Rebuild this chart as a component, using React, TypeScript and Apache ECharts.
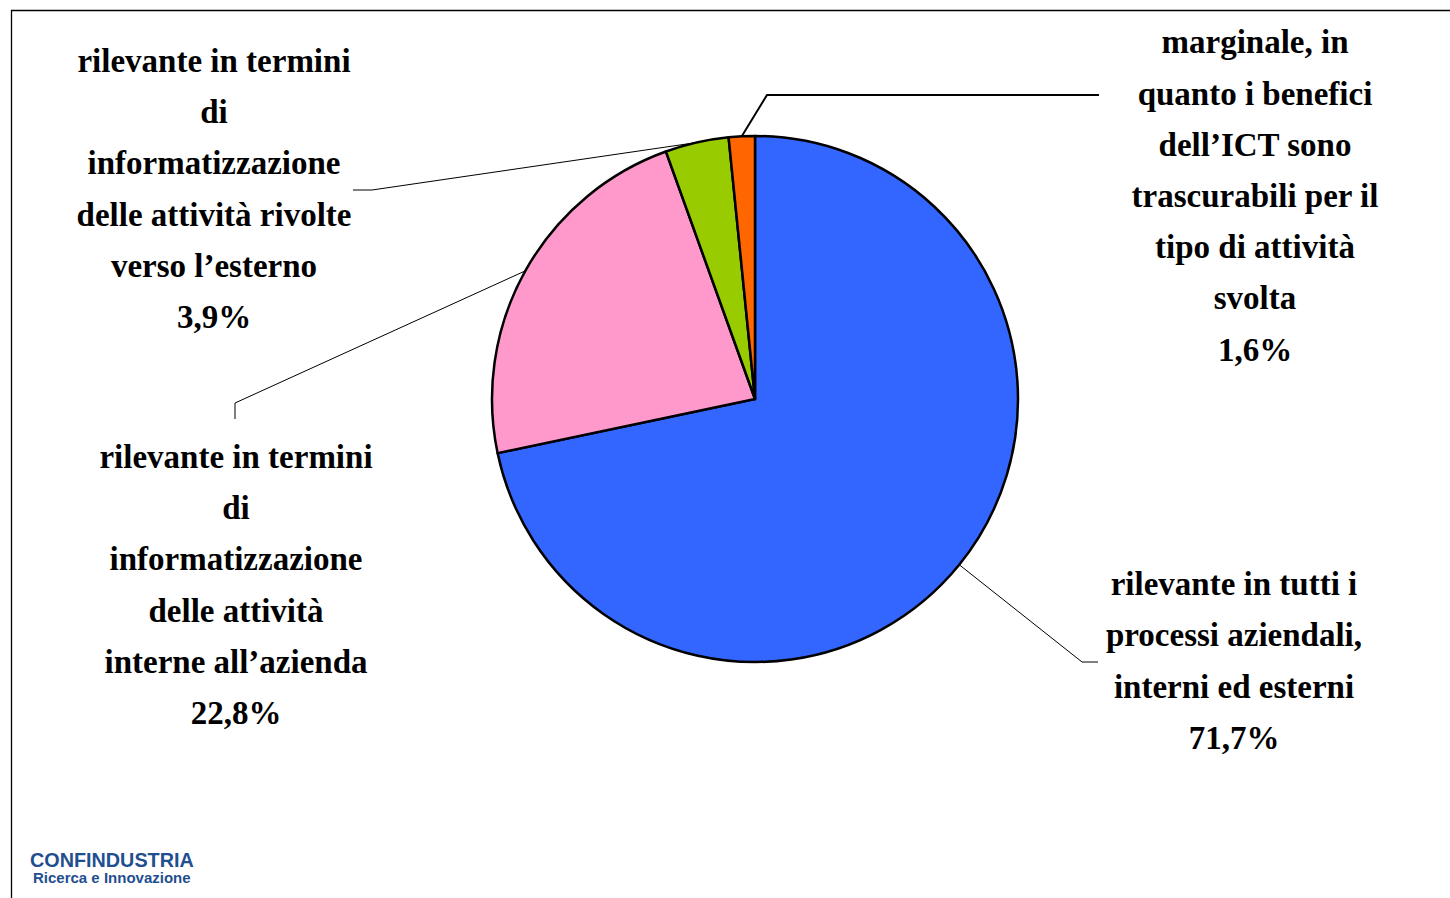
import React, { useEffect, useRef } from "react";
import * as echarts from "echarts";

const categories = [
  "rilevante in tutti i\nprocessi aziendali,\ninterni ed esterni",
  "rilevante in termini\ndi\ninformatizzazione\ndelle attività\ninterne all’azienda",
  "rilevante in termini\ndi\ninformatizzazione\ndelle attività rivolte\nverso l’esterno",
  "marginale, in\nquanto i benefici\ndell’ICT sono\ntrascurabili per il\ntipo di attività\nsvolta",
];
const values = [71.7, 22.8, 3.9, 1.6];
const colors = ["#3366FF", "#FF99CC", "#99CC00", "#FF6600"];

// layout only: label centres and leader-line bends
const labelCenters = [
  [1234, 661],
  [236, 585],
  [214, 189],
  [1255, 196],
];
const lineBends = [
  [[1082, 662], [1098, 662]],
  [[235, 403], [235, 419]],
  [[372, 190], [353, 190]],
  [[767, 95], [1099, 95]],
];
const lineWidths = [1, 1, 1, 2];

export default function App() {
  const ref = useRef<HTMLDivElement>(null);
  useEffect(() => {
    if (!ref.current) return;
    const chart = echarts.init(ref.current, null, { renderer: "svg" });
    const data = values.map((v, i) => ({
      value: v,
      name: categories[i],
      itemStyle: { color: colors[i] },
      labelLine: { lineStyle: { width: lineWidths[i], color: "#000" } },
    }));
    chart.setOption({
      animation: false,
      backgroundColor: "#fff",
      graphic: [
        {
          type: "rect",
          shape: { x: 11.5, y: 10.5, width: 1500, height: 950 },
          style: { fill: "none", stroke: "#000", lineWidth: 1.3 },
          silent: true,
        },
        {
          type: "text",
          left: 30,
          top: 850,
          style: {
            text: "CONFINDUSTRIA",
            fontFamily: "Liberation Sans",
            fontWeight: "bold",
            fontSize: 19.8,
            fill: "#1f4f8f",
          },
        },
        {
          type: "text",
          left: 33,
          top: 870,
          style: {
            text: "Ricerca e Innovazione",
            fontFamily: "Liberation Sans",
            fontWeight: "bold",
            fontSize: 15,
            fill: "#1f4f8f",
          },
        },
      ],
      series: [
        {
          type: "pie",
          center: [755, 399],
          radius: 263,
          startAngle: 90,
          clockwise: true,
          avoidLabelOverlap: false,
          itemStyle: { borderColor: "#000", borderWidth: 2.5 },
          label: {
            show: true,
            formatter: (p: any) =>
              p.name + "\n" + String(p.value).replace(".", ",") + "%",
            fontFamily: "Liberation Serif",
            fontWeight: "bold",
            fontSize: 33,
            lineHeight: 51.2,
            color: "#000",
            align: "center",
          },
          labelLine: { show: true, length: 20, length2: 20, smooth: false },
          labelLayout: (params: any) => {
            const i = params.dataIndex;
            const start = params.labelLinePoints
              ? params.labelLinePoints[0]
              : [0, 0];
            return {
              x: labelCenters[i][0],
              y: labelCenters[i][1],
              align: "center",
              verticalAlign: "middle",
              labelLinePoints: [start, lineBends[i][0], lineBends[i][1]],
            };
          },
          data,
        },
      ],
    });
    return () => chart.dispose();
  }, []);
  return (
    <div
      ref={ref}
      style={{ position: "fixed", left: 0, top: 0, width: 1450, height: 898 }}
    />
  );
}
